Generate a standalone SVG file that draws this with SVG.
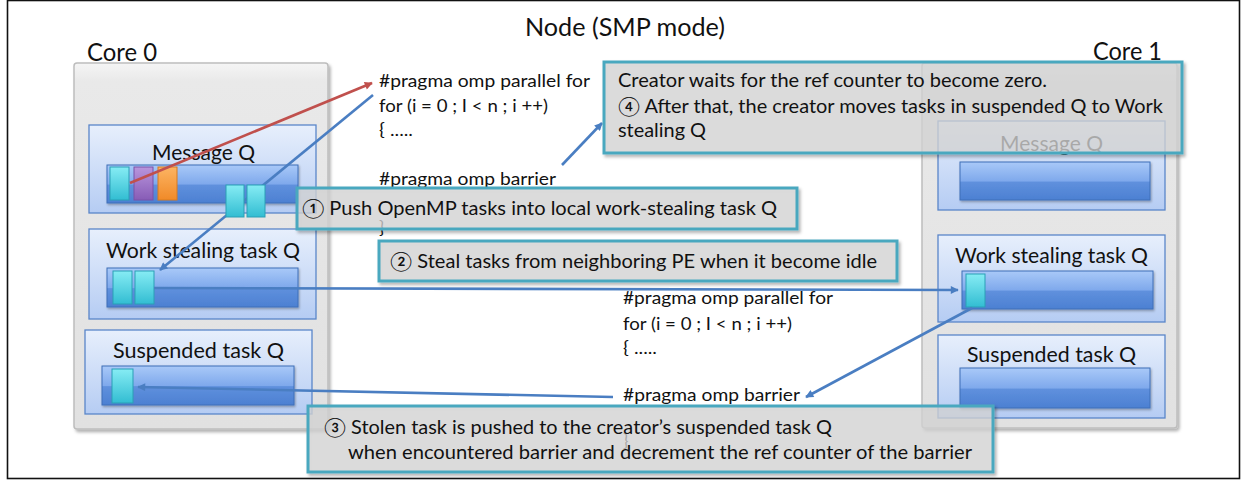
<svg xmlns="http://www.w3.org/2000/svg" width="1244" height="482" viewBox="0 0 1244 482">
<defs>
<style>
.t{font-family:Lato,'Noto Sans CJK JP','DejaVu Sans',sans-serif;fill:#111}
.lbl{font-size:22px}
.big{font-size:25px}
.code{font-size:18px}
.co{font-size:19px}
.core{fill:url(#coreG);stroke:#bdbdbd;stroke-width:1.5}
.q{fill:url(#qG);stroke:#5a86c9;stroke-width:1.3}
.bar{fill:url(#barG);stroke:#3f6fb8;stroke-width:1}
.cy{fill:url(#cyG);stroke:#2b9fb6;stroke-width:1}
.callout{fill:#dadada;fill-opacity:0.72;stroke:#4aa8bf;stroke-width:3}
.blue{fill:none;stroke:#4a7ec2;stroke-width:2.6}
.red{fill:none;stroke:#c0504d;stroke-width:2.6}
</style>
<linearGradient id="coreG" x1="0" y1="0" x2="0" y2="1"><stop offset="0" stop-color="#f5f5f5"/><stop offset="0.05" stop-color="#e9e9e9"/><stop offset="1" stop-color="#e1e1e1"/></linearGradient>
<linearGradient id="qG" x1="0" y1="0" x2="0" y2="1"><stop offset="0" stop-color="#e7effc"/><stop offset="1" stop-color="#b5ccf3"/></linearGradient>
<linearGradient id="barG" x1="0" y1="0" x2="0" y2="1"><stop offset="0" stop-color="#a9c9f8"/><stop offset="0.5" stop-color="#7fa9ec"/><stop offset="0.53" stop-color="#5f90dd"/><stop offset="1" stop-color="#4c80d2"/></linearGradient>
<linearGradient id="cyG" x1="0" y1="0" x2="0" y2="1"><stop offset="0" stop-color="#86ecf4"/><stop offset="1" stop-color="#32bdd2"/></linearGradient>
<linearGradient id="puG" x1="0" y1="0" x2="0" y2="1"><stop offset="0" stop-color="#b995dc"/><stop offset="1" stop-color="#875cb6"/></linearGradient>
<linearGradient id="orG" x1="0" y1="0" x2="0" y2="1"><stop offset="0" stop-color="#fcb463"/><stop offset="1" stop-color="#f08a28"/></linearGradient>
<filter id="sh" x="-10%" y="-10%" width="120%" height="130%"><feDropShadow dx="2" dy="2.5" stdDeviation="1.8" flood-color="#000" flood-opacity="0.3"/></filter>
<filter id="sh2" x="-10%" y="-10%" width="120%" height="130%"><feDropShadow dx="1" dy="1.5" stdDeviation="1" flood-color="#000" flood-opacity="0.3"/></filter>
<marker id="ab" viewBox="0 0 10 10" refX="9" refY="5" markerWidth="10" markerHeight="8" markerUnits="userSpaceOnUse" orient="auto"><path d="M0,0 L10,5 L0,10 Z" fill="#4a7ec2"/></marker>
<marker id="ar" viewBox="0 0 10 10" refX="9" refY="5" markerWidth="10" markerHeight="8" markerUnits="userSpaceOnUse" orient="auto"><path d="M0,0 L10,5 L0,10 Z" fill="#c0504d"/></marker>
</defs>
<rect x="0" y="0" width="1244" height="482" fill="#fff"/>
<rect x="7.5" y="0.5" width="1232" height="478" fill="none" stroke="#111" stroke-width="1.6"/>
<text class="t big" x="525" y="36" textLength="200" lengthAdjust="spacingAndGlyphs">Node (SMP mode)</text>

<g id="core0">
<text class="t big" x="87" y="61" textLength="70" lengthAdjust="spacingAndGlyphs">Core 0</text>
<rect class="core" x="74" y="63" width="254" height="366" rx="3" filter="url(#sh)"/>
<g id="core0-msgq">
<rect class="q" x="89" y="125" width="227" height="88"/>
<text class="t lbl" x="152" y="160" textLength="103" lengthAdjust="spacingAndGlyphs">Message Q</text>
<rect class="bar" x="107" y="165" width="191" height="38" filter="url(#sh2)"/>
<rect class="cy" x="110" y="167" width="19" height="33"/>
<rect x="134" y="167" width="19" height="33" fill="url(#puG)" stroke="#7a52a8" stroke-width="1"/>
<rect x="158" y="167" width="19" height="33" fill="url(#orG)" stroke="#d67a20" stroke-width="1"/>
</g>
<g id="core0-wsq">
<rect class="q" x="89" y="229" width="227" height="90"/>
<text class="t lbl" x="106" y="258" textLength="194" lengthAdjust="spacingAndGlyphs">Work stealing task Q</text>
<rect class="bar" x="107" y="268" width="191" height="39" filter="url(#sh2)"/>
<rect class="cy" x="113" y="271" width="19" height="33"/>
<rect class="cy" x="135" y="271" width="19" height="33"/>
</g>
<g id="core0-susq">
<rect class="q" x="85" y="330" width="227" height="84"/>
<text class="t lbl" x="113" y="358" textLength="171" lengthAdjust="spacingAndGlyphs">Suspended task Q</text>
<rect class="bar" x="102" y="366" width="192" height="39" filter="url(#sh2)"/>
<rect class="cy" x="112" y="369" width="21" height="34"/>
</g>
</g>

<g id="core1">
<text class="t big" x="1093" y="60" textLength="69" lengthAdjust="spacingAndGlyphs">Core 1</text>
<rect class="core" x="922" y="63" width="255" height="365" rx="3" filter="url(#sh)"/>
<g id="core1-msgq">
<rect class="q" x="938" y="121" width="227" height="89"/>
<text class="t lbl" x="1000" y="151" textLength="103" lengthAdjust="spacingAndGlyphs">Message Q</text>
<rect class="bar" x="960" y="162" width="190" height="38" filter="url(#sh2)"/>
</g>
<g id="core1-wsq">
<rect class="q" x="938" y="235" width="227" height="87"/>
<text class="t lbl" x="955" y="263" textLength="193" lengthAdjust="spacingAndGlyphs">Work stealing task Q</text>
<rect class="bar" x="962" y="271" width="191" height="38" filter="url(#sh2)"/>
<rect class="cy" x="966" y="274" width="19" height="33"/>
</g>
<g id="core1-susq">
<rect class="q" x="938" y="335" width="227" height="83"/>
<text class="t lbl" x="967" y="362" textLength="169" lengthAdjust="spacingAndGlyphs">Suspended task Q</text>
<rect class="bar" x="960" y="368" width="190" height="40" filter="url(#sh2)"/>
</g>
</g>

<g id="code1">
<text class="t code" x="379" y="87" textLength="211" lengthAdjust="spacingAndGlyphs">#pragma omp parallel for</text>
<text class="t code" x="379" y="112" textLength="169" lengthAdjust="spacingAndGlyphs">for (i = 0 ; I &lt; n ; i ++)</text>
<text class="t code" x="379" y="136" textLength="34" lengthAdjust="spacingAndGlyphs">{ .....</text>
<text class="t code" x="379" y="185" textLength="177" lengthAdjust="spacingAndGlyphs">#pragma omp barrier</text>
<text class="t code" x="379" y="234">}</text>
</g>
<g id="code2">
<text class="t code" x="623" y="304" textLength="210" lengthAdjust="spacingAndGlyphs">#pragma omp parallel for</text>
<text class="t code" x="623" y="330" textLength="169" lengthAdjust="spacingAndGlyphs">for (i = 0 ; I &lt; n ; i ++)</text>
<text class="t code" x="623" y="354" textLength="34" lengthAdjust="spacingAndGlyphs">{ .....</text>
<text class="t code" x="623" y="401" textLength="177" lengthAdjust="spacingAndGlyphs">#pragma omp barrier</text>
<text class="t code" x="623" y="447">}</text>
</g>

<g id="connectors">
<path class="red" d="M130,183 L372,83" marker-end="url(#ar)"/>
<path class="blue" d="M373,95 L160,270" marker-end="url(#ab)"/>
<path class="blue" d="M562,165 L602,123" marker-end="url(#ab)"/>
<path class="blue" d="M154,288 L958,290" marker-end="url(#ab)"/>
<path class="blue" d="M972,308 L806,397" marker-end="url(#ab)"/>
<path class="blue" d="M613,397 L138,387" marker-end="url(#ab)"/>
</g>

<g id="moving-tasks">
<rect class="cy" x="226" y="185" width="18" height="32"/>
<rect class="cy" x="247" y="185" width="18" height="32"/>
</g>

<g id="callout4">
<rect class="callout" x="604" y="62" width="578" height="91" filter="url(#sh)"/>
<text class="t co" x="618" y="87" textLength="429" lengthAdjust="spacingAndGlyphs">Creator waits for the ref counter to become zero.</text>
<text class="t co" x="618" y="113" textLength="545" lengthAdjust="spacingAndGlyphs">④ After that, the creator moves tasks in suspended Q to Work</text>
<text class="t co" x="618" y="137" textLength="88" lengthAdjust="spacingAndGlyphs">stealing Q</text>
</g>
<g id="callout1">
<rect class="callout" x="297" y="188" width="500" height="41" filter="url(#sh)"/>
<text class="t co" x="302" y="215" textLength="475" lengthAdjust="spacingAndGlyphs">① Push OpenMP tasks into local work-stealing task Q</text>
</g>
<g id="callout2">
<rect class="callout" x="379" y="241" width="518" height="40" filter="url(#sh)"/>
<text class="t co" x="390" y="268" textLength="487" lengthAdjust="spacingAndGlyphs">② Steal tasks from neighboring PE when it become idle</text>
</g>
<g id="callout3">
<rect class="callout" x="308" y="406" width="685" height="66" filter="url(#sh)"/>
<text class="t co" x="324" y="434" textLength="508" lengthAdjust="spacingAndGlyphs">③ Stolen task is pushed to the creator’s suspended task Q</text>
<text class="t co" x="348" y="459" textLength="624" lengthAdjust="spacingAndGlyphs">when encountered barrier and decrement the ref counter of the barrier</text>
</g>
</svg>
